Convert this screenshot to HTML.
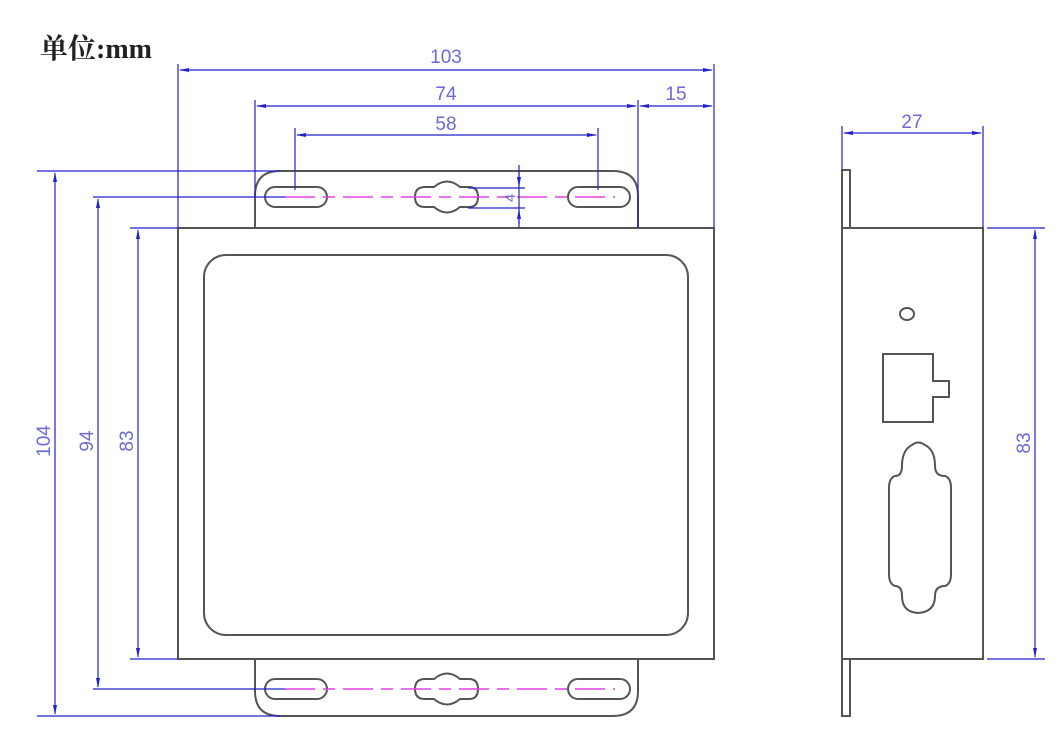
<!DOCTYPE html>
<html><head><meta charset="utf-8"><style>html,body{margin:0;padding:0;background:#fff;}svg{display:block}</style></head>
<body>
<svg width="1064" height="735" viewBox="0 0 1064 735" xmlns="http://www.w3.org/2000/svg">
<defs>
<marker id="a" markerWidth="10" markerHeight="6" refX="9" refY="3" orient="auto-start-reverse" markerUnits="userSpaceOnUse"><path d="M0,1 L10,3 L0,5 z" fill="#2222cc"/></marker>
</defs>
<text x="40" y="58" font-family="'Liberation Serif','Noto Serif CJK SC',serif" font-size="28" font-weight="bold" fill="#222">单位:mm</text>

<g fill="none" stroke="#555" stroke-width="2">
<rect x="178" y="228" width="536" height="431"/>
<rect x="204" y="255" width="484" height="380" rx="22"/>
<path d="M255,228 V196 Q255,171 280,171 H613 Q638,171 638,196 V228"/>
<path d="M255,659 V691 Q255,716 280,716 H613 Q638,716 638,691 V659"/>
<rect x="265" y="187" width="62" height="20" rx="10"/>
<rect x="568" y="187" width="62" height="20" rx="10"/>
<rect x="265" y="679" width="62" height="20" rx="10"/>
<rect x="568" y="679" width="62" height="20" rx="10"/>
<path d="M425,187 H434 Q447,176 460,187 H469 Q478,187 478,197 Q478,207 469,207 H460 Q447,218 434,207 H425 Q415,207 415,197 Q415,187 425,187 Z"/>
<path d="M425,679 H434 Q447,668 460,679 H469 Q478,679 478,689 Q478,699 469,699 H460 Q447,710 434,699 H425 Q415,699 415,689 Q415,679 425,679 Z"/>
<rect x="842" y="228" width="141" height="431"/>
<rect x="842" y="170" width="8" height="58"/>
<rect x="842" y="659" width="8" height="57"/>
<ellipse cx="907" cy="314" rx="7" ry="6"/>
<path d="M883,354 H933 V381 H949 V397 H933 V422 H883 Z"/>
<path d="M912,445 Q918,440 925,445 Q935,450 935,466 Q935,476 945,476 Q951,478 951,488 V574 Q951,584 945,586 Q935,586 935,596 Q935,612 918,613 Q902,612 902,596 Q902,586 895,586 Q889,584 889,574 V488 Q889,478 895,476 Q902,476 902,466 Q902,450 912,445 Z"/>
</g>

<g stroke="#e040e0" stroke-width="1.5" stroke-dasharray="30,8,12,8">
<line x1="285" y1="197" x2="615" y2="197"/>
<line x1="285" y1="689" x2="615" y2="689"/>
</g>

<g stroke="#2222cc" stroke-width="1.2" fill="none">
<line x1="178" y1="64" x2="178" y2="228"/>
<line x1="714" y1="64" x2="714" y2="228"/>
<line x1="180" y1="70" x2="712" y2="70" marker-start="url(#a)" marker-end="url(#a)"/>
<line x1="255" y1="100" x2="255" y2="196"/>
<line x1="638" y1="100" x2="638" y2="228"/>
<line x1="257" y1="106" x2="636" y2="106" marker-start="url(#a)" marker-end="url(#a)"/>
<line x1="640" y1="106" x2="712" y2="106" marker-start="url(#a)" marker-end="url(#a)"/>
<line x1="295" y1="128" x2="295" y2="190"/>
<line x1="598" y1="128" x2="598" y2="190"/>
<line x1="297" y1="135" x2="596" y2="135" marker-start="url(#a)" marker-end="url(#a)"/>
<line x1="37" y1="171" x2="280" y2="171"/>
<line x1="93" y1="197" x2="285" y2="197"/>
<line x1="130" y1="228" x2="178" y2="228"/>
<line x1="37" y1="716" x2="280" y2="716"/>
<line x1="93" y1="689" x2="285" y2="689"/>
<line x1="130" y1="659" x2="178" y2="659"/>
<line x1="55" y1="173" x2="55" y2="714" marker-start="url(#a)" marker-end="url(#a)"/>
<line x1="98" y1="199" x2="98" y2="687" marker-start="url(#a)" marker-end="url(#a)"/>
<line x1="138" y1="230" x2="138" y2="657" marker-start="url(#a)" marker-end="url(#a)"/>
<line x1="468" y1="188" x2="525" y2="188"/>
<line x1="468" y1="208" x2="525" y2="208"/>
<line x1="519" y1="165" x2="519" y2="228"/>
<line x1="519" y1="172" x2="519" y2="186" marker-end="url(#a)"/>
<line x1="519" y1="224" x2="519" y2="210" marker-end="url(#a)"/>
<line x1="842" y1="126" x2="842" y2="170"/>
<line x1="983" y1="126" x2="983" y2="228"/>
<line x1="844" y1="133" x2="981" y2="133" marker-start="url(#a)" marker-end="url(#a)"/>
<line x1="987" y1="228" x2="1045" y2="228"/>
<line x1="987" y1="659" x2="1045" y2="659"/>
<line x1="1035" y1="230" x2="1035" y2="657" marker-start="url(#a)" marker-end="url(#a)"/>
</g>

<g font-family="'Liberation Sans',sans-serif" font-size="19" fill="#6a6ad8" text-anchor="middle">
<text x="446" y="63">103</text>
<text x="446" y="100">74</text>
<text x="446" y="130">58</text>
<text x="676" y="100">15</text>
<text x="912" y="128">27</text>
<text transform="translate(50,441) rotate(-90)">104</text>
<text transform="translate(93,441) rotate(-90)">94</text>
<text transform="translate(133,441) rotate(-90)">83</text>
<text transform="translate(1030,443) rotate(-90)">83</text>
<text transform="translate(515,198) rotate(-90)" font-size="15">4</text>
</g>
</svg>
</body></html>
